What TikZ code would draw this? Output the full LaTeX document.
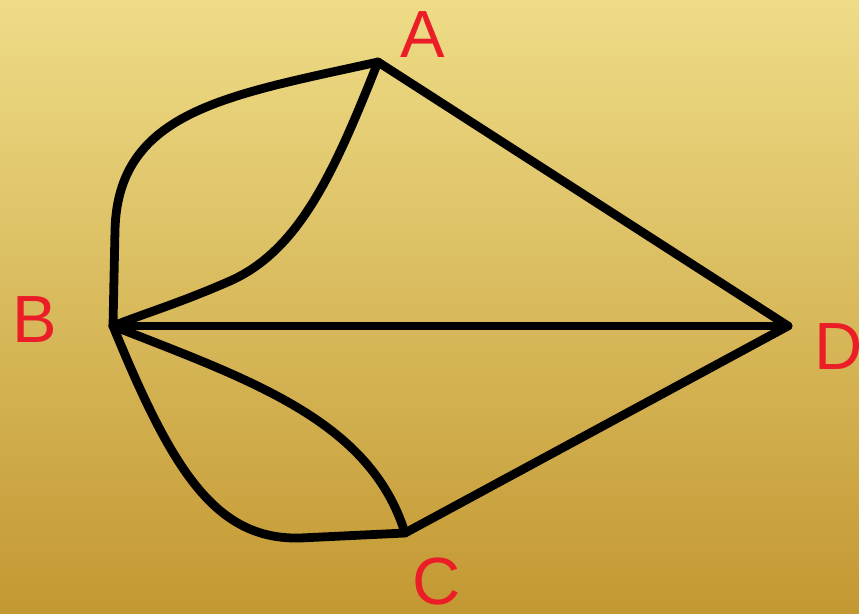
\documentclass[tikz,border=0pt]{standalone}
\usepackage{fontspec}
\setmainfont{Liberation Sans}
\definecolor{goldtop}{RGB}{238,220,135}
\definecolor{goldbottom}{RGB}{195,152,50}
\definecolor{labelred}{RGB}{235,30,40}
\usetikzlibrary{positioning}
\begin{document}
\begin{tikzpicture}[x=0.02cm,y=-0.02cm]
  \tikzstyle{bridge}=[line width=5pt,line cap=round,line join=round,black]
  \tikzstyle{landlabel}=[text=labelred,font=\fontsize{38}{38}\selectfont,inner sep=0pt]

  % background
  \shade[top color=goldtop,bottom color=goldbottom] (0,0) rectangle (859,613);
  \useasboundingbox (0,0) rectangle (859,613);

  % land masses
  \coordinate (a) at (378,62);
  \coordinate (b) at (113,326);
  \coordinate (c) at (405,533);
  \coordinate (d) at (788,326);

  \node[landlabel] (lblA) at (423,35) {A};
  \node[landlabel] (lblB) at (35,320) {B};
  \node[landlabel,anchor=west] (lblD) at (814,347) {D};
  \node[landlabel] (lblC) at (437,582) {C};

  % bridges
  \draw[bridge] (a) .. controls (230,95) and (118,110) .. (115,230) -- (b);
  \draw[bridge] (a) .. controls (335,170) and (300,250) .. (230,281)
                    .. controls (180,303) and (140,315) .. (b);
  \draw[bridge] (b) .. controls (250,380) and (370,420) .. (c);
  \draw[bridge] (b) .. controls (172,470) and (215,540) .. (300,538) -- (c);
  \draw[bridge] (a) -- (d);
  \draw[bridge] (b) -- (d);
  \draw[bridge] (c) -- (d);
\end{tikzpicture}
\end{document}
